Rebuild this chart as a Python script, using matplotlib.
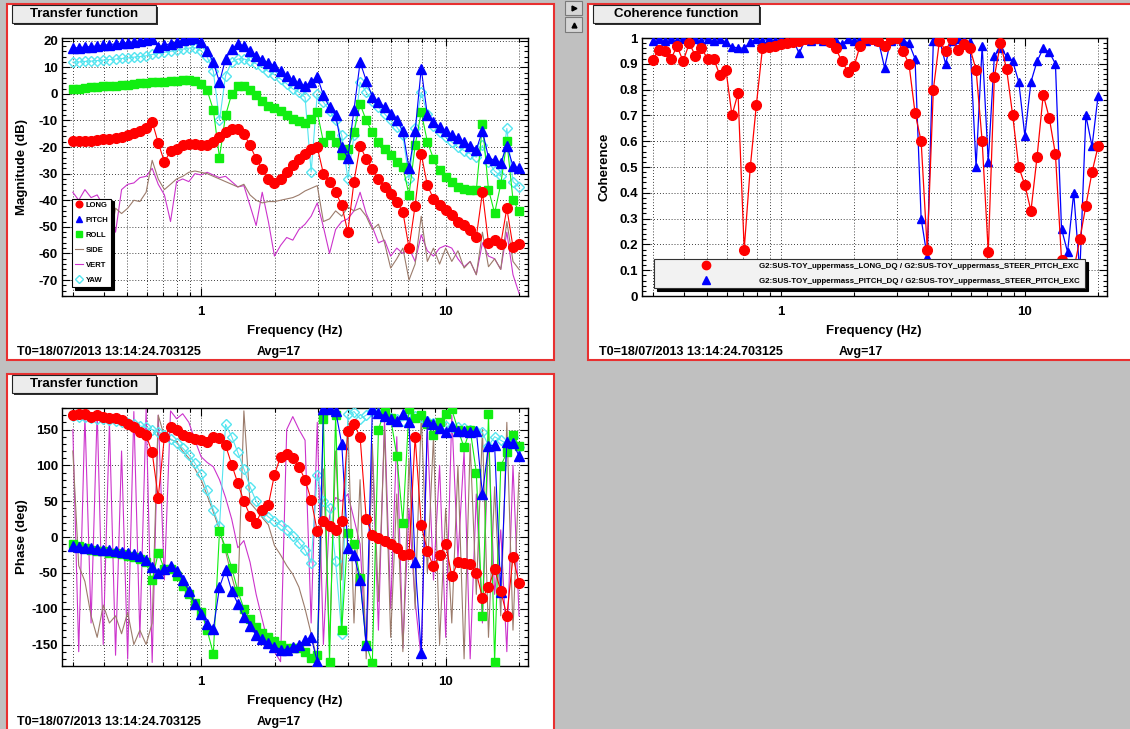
import matplotlib
matplotlib.use("Agg")
import matplotlib.pyplot as plt
from matplotlib.patches import Rectangle
from matplotlib.lines import Line2D
from matplotlib.ticker import NullFormatter

plt.rcParams["font.family"] = ["Liberation Sans", "DejaVu Sans"]
plt.rcParams["font.weight"] = "bold"
plt.rcParams["axes.unicode_minus"] = False

W, H = 1130, 729

# sweep frequencies (Hz)
freq = [0.299, 0.316, 0.335, 0.355, 0.376, 0.398, 0.422, 0.447, 0.473, 0.501,
        0.531, 0.562, 0.596, 0.631, 0.668, 0.708, 0.750, 0.794, 0.841, 0.891,
        0.944, 1.000, 1.059, 1.122, 1.189, 1.259, 1.334, 1.413, 1.496, 1.585,
        1.679, 1.778, 1.884, 1.995, 2.113, 2.239, 2.371, 2.512, 2.661, 2.818,
        2.985, 3.162, 3.350, 3.548, 3.758, 3.981, 4.217, 4.467, 4.732, 5.012,
        5.309, 5.623, 5.957, 6.310, 6.683, 7.079, 7.499, 7.943, 8.414, 8.913,
        9.441, 10.00, 10.59, 11.22, 11.89, 12.59, 13.34, 14.13, 14.96, 15.85,
        16.79, 17.78, 18.84, 19.95]

# magnitude (dB)
mag_long = [-17.9, -17.8, -17.6, -17.7, -17.2, -17.0, -16.8, -16.5, -16.2, -15.6,
            -14.8, -13.8, -12.8, -10.5, -18.4, -25.6, -21.5, -20.6, -19.4, -18.8,
            -18.8, -19.1, -19.4, -18.1, -16.3, -14.4, -13.1, -13.1, -15.0, -19.4,
            -24.4, -28.1, -31.9, -33.4, -31.9, -29.4, -26.9, -24.4, -22.5, -20.6,
            -20.0, -30.0, -33.0, -36.9, -41.9, -52.0, -33.0, -19.6, -24.4, -28.1,
            -31.9, -35.0, -37.5, -40.6, -44.4, -58.0, -42.0, -22.5, -34.4, -39.4,
            -41.9, -43.8, -45.6, -48.0, -49.4, -51.3, -53.8, -37.0, -56.0, -55.0,
            -56.5, -43.0, -57.5, -56.5]
mag_pitch = [17.2, 17.4, 17.6, 17.8, 18.0, 18.3, 18.5, 18.8, 19.0, 19.3,
             19.6, 19.9, 20.2, 20.6, 17.7, 18.3, 18.9, 19.5, 20.1, 20.7,
             21.1, 19.4, 16.2, 11.9, 4.4, 13.1, 16.9, 18.7, 18.1, 16.2,
             14.4, 12.9, 11.6, 10.5, 8.5, 6.8, 5.2, 4.0, 3.0, 4.5,
             6.5, -0.5, -5.0, -8.0, -20.0, -24.0, -6.0, 11.9, 5.0, -1.0,
             -3.0, -5.0, -7.5, -10.0, -14.0, -28.0, -14.0, 9.5, -8.0, -10.5,
             -12.5, -14.0, -15.5, -16.5, -18.0, -19.5, -21.0, -13.8, -24.0, -25.0,
             -26.0, -19.5, -27.0, -28.0]
mag_roll = [1.9, 2.0, 2.2, 2.4, 2.6, 2.8, 3.0, 3.1, 3.3, 3.5,
            3.7, 3.9, 4.1, 4.3, 4.4, 4.6, 4.8, 5.0, 5.1, 5.2,
            5.0, 3.8, 1.3, -6.0, -24.0, -8.1, 0.0, 3.1, 3.1, 1.3,
            -0.6, -2.5, -4.4, -5.5, -6.5, -8.1, -9.4, -10.3, -11.0, -9.5,
            -6.9, -18.0, -15.6, -18.0, -23.0, -20.6, -14.4, -3.8, -10.0, -14.4,
            -18.0, -20.6, -23.1, -25.6, -27.5, -38.0, -19.4, -6.9, -18.0, -24.4,
            -28.8, -31.3, -33.1, -35.0, -35.6, -36.3, -36.3, -11.3, -36.0, -44.8,
            -34.0, -17.8, -39.8, -44.2]
mag_side = [-50, -48, -52, -47, -55, -52, -56, -43, -45, -43,
            -40, -40.5, -37, -25, -32, -36, -34, -32, -31, -29.5,
            -29, -29.5, -30, -31, -32, -33, -34, -35, -34, -38,
            -40, -41, -40.5, -40.5, -40, -39.5, -39, -38, -36.5, -35.5,
            -34.5, -48, -47, -44, -46, -42.5, -44, -43, -46, -51,
            -49, -56, -65.5, -62, -58, -70, -64, -46, -63, -58,
            -64, -58, -63, -59, -65.5, -63, -68, -52, -65, -62,
            -66, -48, -63, -66]
mag_vert = [-37, -40, -36, -39, -38, -42, -40, -52, -36, -34,
            -33.5, -31.5, -31, -28, -34, -38, -48, -33, -32, -33,
            -30, -30.5, -29.5, -30.5, -31.5, -31, -33, -35, -34.5, -42,
            -49.5, -37, -48, -61, -57, -54, -55, -51, -49, -46,
            -41, -50, -60, -51, -48, -47, -44, -37, -45, -50,
            -56, -55, -61, -58, -60, -58, -63, -53, -59, -61,
            -58, -57, -58, -62, -65, -63, -68, -56, -61, -62,
            -66, -52, -68, -75]
mag_yaw = [11.9, 12.0, 12.2, 12.3, 12.5, 12.7, 12.9, 13.1, 13.3, 13.5,
           13.8, 14.0, 14.3, 14.8, 15.2, 15.6, 16.0, 16.4, 16.8, 17.2,
           17.4, 16.2, 13.8, 8.5, -10.0, 6.9, 11.9, 13.1, 13.1, 12.5,
           11.3, 10.0, 8.4, 7.2, 5.6, 3.8, 1.9, 0.6, -1.3, -29.4,
           0.0, -3.1, -6.3, -10.0, -15.6, -31.9, -15.6, 4.4, 0.6, -2.5,
           -5.0, -7.5, -10.0, -12.5, -15.6, -32.0, -13.0, 0.6, -7.5, -11.9,
           -14.4, -16.3, -18.1, -20.0, -21.3, -22.5, -23.8, -19.4, -25.6, -29.0,
           -31.0, -13.0, -33.0, -35.0]

# phase (deg)
ph_long = [170, 172, 172, 168, 170, 168, 166, 166, 163, 158,
           154, 147, 142, 118, 55, 140, 153, 149, 143, 139,
           137, 135, 133, 139, 138, 128, 101, 75, 50, 30,
           20, 38, 45, 87, 112, 116, 110, 98, 80, 52,
           8, 22, 16, 10, 22, 148, 157, 140, 25, 3,
           -2, -6, -10, -15, -25, -24, 140, 17, -20, -41,
           -25, -10, -55, -35, -36, -37, -50, -85, -70, -45,
           -75, -110, -28, -64]
ph_pitch = [-13, -14, -15, -16, -16.5, -17.5, -18.5, -19.5, -20.5, -22,
            -24, -27, -32, -42, -50, -44, -41, -47, -60, -75,
            -93, -108, -121, -129, -70, -46, -75, -93, -112, -124,
            -137, -143, -148, -153, -157, -157, -154, -150, -144, -140,
            -174, 178, 178, 176, 130, -15, -25, -60, -150, 178,
            173, 169, 164, 162, 172, 160, -35, -162, 162, 157,
            152, 146, 155, 148, 148, 146, 148, 60, 127, 128,
            -77, 133, 131, 113]
ph_roll = [-10, -13, -16, -18, -19, -20, -22, -23, -24, -26,
           -28, -31, -35, -60, -22, -45, -45, -55, -68, -80,
           -92, -104, -130, -163, 8, -15, -43, -75, -100, -115,
           -126, -134, -140, -145, -151, -155, -155, -155, -160, -169,
           -165, 165, -174, 170, -130, 5, -10, -57, -150, -176,
           150, 176, 166, 113, 20, 178, 166, 170, 157, 143,
           160, 171, 178, 150, 125, 150, 90, -110, 171, -175,
           99, 118, 143, 127]
ph_side = [120, -40, -62, -110, -140, -95, -120, -110, -135, -105,
           -150, -130, -150, -120, 170, 140, 136, 133, 120, 110,
           95, 80, 58, 35, 10, -20, -55, -85, 176, 48,
           38, 27, 17, -12, -25, -40, -52, -70, -100, -135,
           -172, 95, -150, 120, -60, 160, -120, 80, -170, 130,
           -90, 150, -140, 60, -160, 110, -100, 170, -50, 140,
           -150, 40, -120, 100, -170, 130, -80, 150, -140, 70,
           -110, 160, -130, 90]
ph_vert = [150, -160, 170, -120, 175, -150, 160, -165, 120, -170,
           175, -140, 178, -175, 170, -60, 176, 165, 172, 160,
           135, 112, 104, 98, 80, 55, 25, -15, -5, -35,
           -80, -115, -150, -160, -174, 150, 168, 150, 135, -120,
           160, -150, 30, 55, 50, 60, 25, -10, -160, 120,
           -130, 165, -100, 140, -155, 40, -90, -170, 150, -60,
           100, -140, 170, -30, 120, -170, 60, -120, 140, -80,
           10, -160, 100, -110]
ph_yaw = [169, 168, 167, 166, 165, 164, 163, 162, 161, 159,
          157, 155, 153, 150, 147, 142, 137, 131, 124, 115,
          103, 88, 65, 38, 15, 157, 140, 118, 95, 70,
          50, 36, 28, 22, 17, 10, 2, -8, -18, -36,
          87, 50, 40, -34, -136, 171, 175, 165, 170, 176,
          173, 169, 166, 164, 162, 166, 169, 167, 162, 159,
          157, 155, 154, 153, 152, 149, 148, 146, 127, 140,
          135, 130, 140, 125]

# coherence
coh_long = [0.916, 0.955, 0.948, 0.92, 0.968, 0.91, 0.98, 0.93, 0.96, 0.92,
            0.92, 0.857, 0.877, 0.70, 0.786, 0.18, 0.50, 0.74, 0.96, 0.967,
            0.97, 0.975, 0.98, 0.985, 0.99, 0.995, 0.995, 1.0, 0.995, 0.985,
            0.96, 0.91, 0.87, 0.89, 0.97, 1.0, 0.995, 0.99, 0.97, 0.995,
            1.0, 0.95, 0.90, 0.71, 0.60, 0.18, 0.80, 0.99, 0.95, 0.995,
            0.955, 0.975, 0.96, 0.877, 0.60, 0.17, 0.85, 0.98, 0.88, 0.70,
            0.50, 0.43, 0.33, 0.54, 0.78, 0.69, 0.55, 0.14, 0.05, 0.10,
            0.22, 0.35, 0.48, 0.58]
coh_pitch = [0.99, 0.995, 0.99, 0.995, 0.99, 0.995, 0.99, 0.995, 0.99, 0.995,
             0.99, 0.995, 0.985, 0.965, 0.962, 0.96, 0.985, 0.995, 0.99, 0.995,
             0.99, 0.995, 0.99, 0.995, 0.94, 0.995, 0.99, 0.995, 0.99, 0.995,
             0.99, 0.975, 0.995, 0.99, 0.995, 0.99, 0.995, 0.99, 0.885, 0.99,
             0.995, 0.99, 0.98, 0.92, 0.30, 0.15, 0.99, 0.995, 0.90, 0.99,
             0.995, 0.99, 0.985, 0.50, 0.97, 0.52, 0.93, 0.96, 0.93, 0.91,
             0.83, 0.62, 0.83, 0.91, 0.96, 0.945, 0.90, 0.26, 0.17, 0.40,
             0.09, 0.70, 0.58, 0.776]

names = ["LONG", "PITCH", "ROLL", "SIDE", "VERT", "YAW"]
C_LONG, C_PITCH, C_ROLL = "#ff0000", "#0000ff", "#11ee11"
C_SIDE, C_VERT, C_YAW = "#9b7b6b", "#cc33cc", "#55e5f0"
RED_EDGE = "#e83030"


def fbox(x0, y0, x1, y1):
    return (x0 / W, 1 - y1 / H), (x1 - x0) / W, (y1 - y0) / H


fig = plt.figure(figsize=(W / 100, H / 100), dpi=100)
fig.patch.set_facecolor("#c0c0c0")


def panel(x0, y0, x1, y1):
    xy, w, h = fbox(x0, y0, x1, y1)
    fig.add_artist(Rectangle(xy, w, h, transform=fig.transFigure, fc="white",
                             ec=RED_EDGE, lw=1.5, zorder=-10))


def title_button(x0, y0, x1, y1, text):
    xy, w, h = fbox(x0 + 2, y0 + 2, x1 + 2, y1 + 2)
    fig.add_artist(Rectangle(xy, w, h, transform=fig.transFigure, fc="#303030",
                             ec="none", zorder=5))
    xy, w, h = fbox(x0, y0, x1, y1)
    fig.add_artist(Rectangle(xy, w, h, transform=fig.transFigure, fc="#ececec",
                             ec="#222222", lw=0.8, zorder=6))
    fig.text((x0 + x1) / 2 / W, 1 - (y0 + y1) / 2 / H, text, ha="center",
             va="center", fontsize=9.5, zorder=7)


def setup(ax, ylim, major, minor, labels=None):
    ax.set_xscale("log")
    ax.set_xlim(0.27, 21.7)
    ax.set_ylim(*ylim)
    ax.set_xticks([1, 10])
    ax.set_xticklabels(["1", "10"])
    ax.set_xticks([0.3, 0.4, 0.5, 0.6, 0.7, 0.8, 0.9, 2, 3, 4, 5, 6, 7, 8, 9, 20],
                  minor=True)
    ax.xaxis.set_minor_formatter(NullFormatter())
    ax.set_yticks(major)
    ax.set_yticks(minor, minor=True)
    if labels is not None:
        ax.set_yticklabels(labels)
    ax.tick_params(which="both", direction="in", top=True, right=True,
                   labelsize=9.5, width=0.8)
    ax.tick_params(which="major", length=6)
    ax.tick_params(which="minor", length=3)
    ax.tick_params(axis="x", pad=7)
    ax.tick_params(axis="y", pad=3)
    ax.grid(True, axis="x", which="both", ls=(0, (1, 2.5)), color="k", lw=0.6)
    ax.grid(True, axis="y", which="major", ls=(0, (1, 2.5)), color="k", lw=0.6)
    ax.set_axisbelow(True)
    for s in ax.spines.values():
        s.set_linewidth(1.0)


def draw_tf(ax, long_, pitch, roll, side, vert, yaw):
    ax.plot(freq, vert, color=C_VERT, lw=0.8, zorder=2)
    ax.plot(freq, side, color=C_SIDE, lw=0.8, zorder=2.1)
    ax.plot(freq, yaw, color=C_YAW, lw=0.8, marker="D", ms=5.2, mfc="none",
            mec=C_YAW, mew=1.0, zorder=3)
    ax.plot(freq, roll, color=C_ROLL, lw=0.8, marker="s", ms=6.3, zorder=4)
    ax.plot(freq, pitch, color=C_PITCH, lw=0.8, marker="^", ms=6.5, zorder=5)
    ax.plot(freq, long_, color=C_LONG, lw=0.8, marker="o", ms=7, zorder=6)


# ---- panels / frames
panel(7, 4, 554, 360)
panel(588, 4, 1140, 360)
panel(7, 374, 554, 740)

# small buttons between panels
for (y0, y1, mk) in [(1, 15, ">"), (17, 32, "^")]:
    xy, w, h = fbox(565, y0, 582, y1)
    fig.add_artist(Rectangle(xy, w, h, transform=fig.transFigure, fc="#d6d6d6",
                             ec="#7a7a7a", lw=0.8))
    fig.add_artist(Line2D([573.5 / W], [1 - (y0 + y1) / 2 / H], marker=mk,
                          ms=3.5, color="black", transform=fig.transFigure))

# ---- magnitude
ax1 = fig.add_axes([62 / W, 1 - 296 / H, 466 / W, 258 / H])
setup(ax1, (-76, 21), list(range(-70, 30, 10)), list(range(-76, 22, 2)))
draw_tf(ax1, mag_long, mag_pitch, mag_roll, mag_side, mag_vert, mag_yaw)
handles = [Line2D([], [], ls="none", marker="o", color=C_LONG, ms=4.8),
           Line2D([], [], ls="none", marker="^", color=C_PITCH, ms=4.8),
           Line2D([], [], ls="none", marker="s", color=C_ROLL, ms=4.8),
           Line2D([], [], color=C_SIDE, lw=0.8),
           Line2D([], [], color=C_VERT, lw=0.8),
           Line2D([], [], ls="none", marker="D", mfc="none", mec=C_YAW, ms=4.2)]
leg = ax1.legend(handles, names, loc="lower left", bbox_to_anchor=(0.021, 0.035),
                 borderaxespad=0, fontsize=5.5, labelspacing=1.0,
                 handlelength=1.1, handletextpad=0.3, borderpad=0.4,
                 fancybox=False, framealpha=1, edgecolor="black",
                 shadow={"facecolor": "black", "edgecolor": "black", "alpha": 1})
leg.get_frame().set_linewidth(0.8)
leg.set_zorder(20)

# ---- coherence
ax2 = fig.add_axes([642 / W, 1 - 296 / H, 465 / W, 258 / H])
ticks = [i / 10 for i in range(11)]
setup(ax2, (0, 1), ticks, [i / 50 for i in range(51)],
      ["0"] + ["%.1f" % t for t in ticks[1:-1]] + ["1"])
ax2.plot(freq, coh_pitch, color=C_PITCH, lw=0.9, marker="^", ms=6, zorder=4)
ax2.plot(freq, coh_long, color=C_LONG, lw=0.9, marker="o", ms=7, zorder=5)
h2 = [Line2D([], [], ls="none", marker="o", color=C_LONG, ms=6),
      Line2D([], [], ls="none", marker="^", color=C_PITCH, ms=5.5)]
l2 = ["G2:SUS-TOY_uppermass_LONG_DQ / G2:SUS-TOY_uppermass_STEER_PITCH_EXC",
      "G2:SUS-TOY_uppermass_PITCH_DQ / G2:SUS-TOY_uppermass_STEER_PITCH_EXC"]
leg2 = ax2.legend(h2, l2, loc="lower left", bbox_to_anchor=(0.026, 0.031, 0.927, 0.12),
                  mode="expand", borderaxespad=0, fontsize=5.7, labelspacing=1.0,
                  handlelength=12.3, handletextpad=0.6, borderpad=0.35,
                  fancybox=False, framealpha=1, facecolor="#f2f2f2",
                  edgecolor="#333333",
                  shadow={"facecolor": "black", "edgecolor": "black", "alpha": 1})
leg2.get_frame().set_linewidth(0.8)
leg2.set_zorder(20)

# ---- phase
ax3 = fig.add_axes([62 / W, 1 - 666 / H, 466 / W, 258 / H])
setup(ax3, (-180, 180), list(range(-150, 200, 50)), list(range(-180, 190, 10)))
draw_tf(ax3, ph_long, ph_pitch, ph_roll, ph_side, ph_vert, ph_yaw)

# ---- texts
title_button(12, 5, 156, 23, "Transfer function")
title_button(593, 5, 759, 23, "Coherence function")
title_button(12, 375, 156, 393, "Transfer function")

fig.text(295 / W, 1 - 331 / H, "Frequency (Hz)", ha="center", va="center", fontsize=9.5)
fig.text(874 / W, 1 - 331 / H, "Frequency (Hz)", ha="center", va="center", fontsize=9.5)
fig.text(295 / W, 1 - 701 / H, "Frequency (Hz)", ha="center", va="center", fontsize=9.5)
fig.text(22 / W, 1 - 167 / H, "Magnitude (dB)", rotation=90, ha="center", va="center", fontsize=9.5)
fig.text(604 / W, 1 - 167 / H, "Coherence", rotation=90, ha="center", va="center", fontsize=9.5)
fig.text(22 / W, 1 - 537 / H, "Phase (deg)", rotation=90, ha="center", va="center", fontsize=9.5)

stamp = "T0=18/07/2013 13:14:24.703125"
for (x, y) in [(17, 352), (599, 352), (17, 722)]:
    fig.text(x / W, 1 - y / H, stamp, ha="left", va="center", fontsize=9)
    fig.text((x + 240) / W, 1 - y / H, "Avg=17", ha="left", va="center", fontsize=9)

fig.savefig("out.png", dpi=100, facecolor=fig.get_facecolor())
